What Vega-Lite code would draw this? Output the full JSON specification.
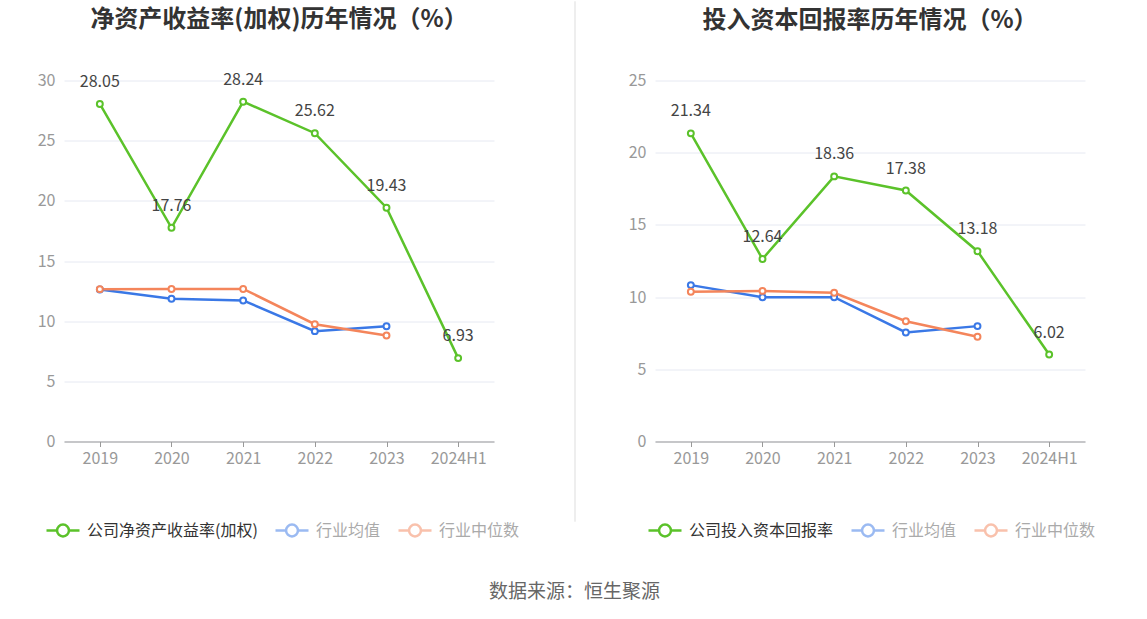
{
  "$schema": "https://vega.github.io/schema/vega-lite/v6.json",
  "padding": {"left": 37, "top": 0, "right": 10, "bottom": 10},
  "background": "white",
  "bounds": "flush",
  "center": true,
  "spacing": 80,
  "config": {
    "font": "Noto Sans CJK SC",
    "view": {"stroke": null},
    "title": {"fontSize": 24, "fontWeight": "bold", "color": "#333333", "offset": 40, "anchor": "middle"},
    "axis": {"labelFont": "Noto Sans CJK SC", "labelFontSize": 16, "labelColor": "#999999", "title": null}
  },
  "datasets": {
    "roe": [
      {"year": "2019", "series": "公司净资产收益率(加权)", "value": 28.05},
      {"year": "2020", "series": "公司净资产收益率(加权)", "value": 17.76},
      {"year": "2021", "series": "公司净资产收益率(加权)", "value": 28.24},
      {"year": "2022", "series": "公司净资产收益率(加权)", "value": 25.62},
      {"year": "2023", "series": "公司净资产收益率(加权)", "value": 19.43},
      {"year": "2024H1", "series": "公司净资产收益率(加权)", "value": 6.93},
      {"year": "2019", "series": "行业均值", "value": 12.63},
      {"year": "2020", "series": "行业均值", "value": 11.86},
      {"year": "2021", "series": "行业均值", "value": 11.72},
      {"year": "2022", "series": "行业均值", "value": 9.17},
      {"year": "2023", "series": "行业均值", "value": 9.58},
      {"year": "2019", "series": "行业中位数", "value": 12.66},
      {"year": "2020", "series": "行业中位数", "value": 12.67},
      {"year": "2021", "series": "行业中位数", "value": 12.68},
      {"year": "2022", "series": "行业中位数", "value": 9.75},
      {"year": "2023", "series": "行业中位数", "value": 8.81}
    ],
    "roic": [
      {"year": "2019", "series": "公司投入资本回报率", "value": 21.34},
      {"year": "2020", "series": "公司投入资本回报率", "value": 12.64},
      {"year": "2021", "series": "公司投入资本回报率", "value": 18.36},
      {"year": "2022", "series": "公司投入资本回报率", "value": 17.38},
      {"year": "2023", "series": "公司投入资本回报率", "value": 13.18},
      {"year": "2024H1", "series": "公司投入资本回报率", "value": 6.02},
      {"year": "2019", "series": "行业均值", "value": 10.83},
      {"year": "2020", "series": "行业均值", "value": 9.99},
      {"year": "2021", "series": "行业均值", "value": 9.99},
      {"year": "2022", "series": "行业均值", "value": 7.55},
      {"year": "2023", "series": "行业均值", "value": 7.99},
      {"year": "2019", "series": "行业中位数", "value": 10.37},
      {"year": "2020", "series": "行业中位数", "value": 10.43},
      {"year": "2021", "series": "行业中位数", "value": 10.3},
      {"year": "2022", "series": "行业中位数", "value": 8.33},
      {"year": "2023", "series": "行业中位数", "value": 7.25}
    ]
  },
  "resolve": {
    "scale": {"color": "independent", "y": "independent", "x": "independent"},
    "legend": {"color": "independent"}
  },
  "hconcat": [
    {
      "title": {"text": "净资产收益率(加权)历年情况（%）"},
      "width": 430,
      "height": 361,
      "data": {"name": "roe"},
      "encoding": {
        "x": {
          "field": "year", "type": "ordinal", "sort": null,
          "scale": {"type": "point", "padding": 0.5},
          "axis": {"labelAngle": 0, "domainColor": "#999999", "tickColor": "#999999", "tickSize": 5, "labelPadding": 4, "grid": false}
        },
        "y": {
          "field": "value", "type": "quantitative",
          "scale": {"domain": [0, 30]},
          "axis": {"values": [0, 5, 10, 15, 20, 25, 30], "domain": false, "ticks": false, "labelPadding": 9, "gridColor": "#e6e9f2"}
        },
        "color": {
          "field": "series", "type": "nominal",
          "scale": {"domain": ["公司净资产收益率(加权)", "行业均值", "行业中位数"], "range": ["#5bc22a", "#3a78e6", "#f4855b"]},
          "legend": {
            "orient": "none", "legendX": -19, "legendY": 432, "direction": "horizontal", "title": null,
            "symbolType": "M-1,0L-0.36,0M0.36,0L1,0M-0.36,0A0.36,0.36,0,1,1,0.36,0A0.36,0.36,0,1,1,-0.36,0Z",
            "symbolSize": 1089, "symbolStrokeWidth": 2.5, "labelFontSize": 16, "labelOffset": 6, "columnPadding": 12,
            "labelLimit": 400, "labelColor": "#333333", "labelFont": "Noto Sans CJK SC",
            "encode": {
              "symbols": {"update": {"fill": {"value": "white"}, "opacity": {"signal": "datum.value == '公司净资产收益率(加权)' ? 1 : 0.5"}}},
              "labels": {"update": {"fill": {"signal": "datum.value == '公司净资产收益率(加权)' ? '#333333' : '#aaaaaa'"}}}
            }
          }
        }
      },
      "layer": [
        {"mark": {"type": "line", "strokeWidth": 2.5}},
        {"mark": {"type": "point", "filled": false, "fill": "white", "size": 35, "strokeWidth": 2, "opacity": 1}},
        {
          "transform": [{"filter": "datum.series == '公司净资产收益率(加权)'"}],
          "mark": {"type": "text", "fontSize": 16, "baseline": "middle", "dy": -22, "font": "Noto Sans CJK SC"},
          "encoding": {"text": {"field": "value", "type": "quantitative", "format": ".2f"}, "color": {"value": "#444444"}}
        }
      ]
    },
    {
      "width": 1,
      "height": 520,
      "view": {"stroke": "#eeeeee"},
      "data": {"values": [{}]},
      "mark": {"type": "point", "opacity": 0},
      "title": {"text": "数据来源：恒生聚源", "orient": "bottom", "offset": 62, "fontSize": 19, "fontWeight": "normal", "color": "#666666", "anchor": "middle"}
    },
    {
      "title": {"text": "投入资本回报率历年情况（%）"},
      "width": 430,
      "height": 361,
      "data": {"name": "roic"},
      "encoding": {
        "x": {
          "field": "year", "type": "ordinal", "sort": null,
          "scale": {"type": "point", "padding": 0.5},
          "axis": {"labelAngle": 0, "domainColor": "#999999", "tickColor": "#999999", "tickSize": 5, "labelPadding": 4, "grid": false}
        },
        "y": {
          "field": "value", "type": "quantitative",
          "scale": {"domain": [0, 25]},
          "axis": {"values": [0, 5, 10, 15, 20, 25], "domain": false, "ticks": false, "labelPadding": 9, "gridColor": "#e6e9f2"}
        },
        "color": {
          "field": "series", "type": "nominal",
          "scale": {"domain": ["公司投入资本回报率", "行业均值", "行业中位数"], "range": ["#5bc22a", "#3a78e6", "#f4855b"]},
          "legend": {
            "orient": "none", "legendX": -8, "legendY": 432, "direction": "horizontal", "title": null,
            "symbolType": "M-1,0L-0.36,0M0.36,0L1,0M-0.36,0A0.36,0.36,0,1,1,0.36,0A0.36,0.36,0,1,1,-0.36,0Z",
            "symbolSize": 1089, "symbolStrokeWidth": 2.5, "labelFontSize": 16, "labelOffset": 6, "columnPadding": 12,
            "labelLimit": 400, "labelColor": "#333333", "labelFont": "Noto Sans CJK SC",
            "encode": {
              "symbols": {"update": {"fill": {"value": "white"}, "opacity": {"signal": "datum.value == '公司投入资本回报率' ? 1 : 0.5"}}},
              "labels": {"update": {"fill": {"signal": "datum.value == '公司投入资本回报率' ? '#333333' : '#aaaaaa'"}}}
            }
          }
        }
      },
      "layer": [
        {"mark": {"type": "line", "strokeWidth": 2.5}},
        {"mark": {"type": "point", "filled": false, "fill": "white", "size": 35, "strokeWidth": 2, "opacity": 1}},
        {
          "transform": [{"filter": "datum.series == '公司投入资本回报率'"}],
          "mark": {"type": "text", "fontSize": 16, "baseline": "middle", "dy": -22, "font": "Noto Sans CJK SC"},
          "encoding": {"text": {"field": "value", "type": "quantitative", "format": ".2f"}, "color": {"value": "#444444"}}
        }
      ]
    }
  ]
}
